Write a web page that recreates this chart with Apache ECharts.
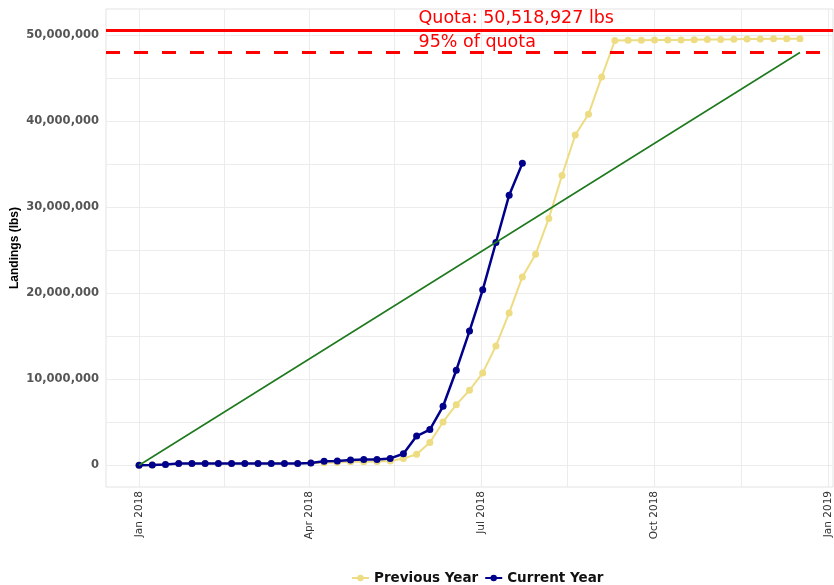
<!DOCTYPE html>
<html><head><meta charset="utf-8">
<script src="https://cdn.jsdelivr.net/npm/echarts@6/dist/echarts.min.js"></script>
<style>html,body{margin:0;padding:0;background:#fff}#c{width:834px;height:585px}</style>
</head><body><div id="c"></div>
<script>
// weekly dates
const weekDates = [
  '2018-01-01','2018-01-08','2018-01-15','2018-01-22','2018-01-29','2018-02-05','2018-02-12','2018-02-19','2018-02-26',
  '2018-03-05','2018-03-12','2018-03-19','2018-03-26','2018-04-02','2018-04-09','2018-04-16','2018-04-23','2018-04-30',
  '2018-05-07','2018-05-14','2018-05-21','2018-05-28','2018-06-04','2018-06-11','2018-06-18','2018-06-25','2018-07-02',
  '2018-07-09','2018-07-16','2018-07-23','2018-07-30','2018-08-06','2018-08-13','2018-08-20','2018-08-27','2018-09-03',
  '2018-09-10','2018-09-17','2018-09-24','2018-10-01','2018-10-08','2018-10-15','2018-10-22','2018-10-29','2018-11-05',
  '2018-11-12','2018-11-19','2018-11-26','2018-12-03','2018-12-10','2018-12-17'
];
const previousYear = [
  0, 20000, 80000, 200000, 200000, 200000, 200000, 200000, 200000, 200000, 200000, 200000, 200000,
  250000, 300000, 320000, 420000, 420000, 450000, 500000, 780000, 1280000, 2640000, 5040000, 7050000,
  8720000, 10740000, 13880000, 17710000, 21900000, 24530000, 28700000, 33700000, 38400000, 40800000,
  45150000, 49380000, 49420000, 49420000, 49430000, 49430000, 49450000, 49470000, 49500000, 49500000,
  49520000, 49550000, 49560000, 49580000, 49600000, 49600000
];
const currentYear = [
  0, 20000, 80000, 200000, 200000, 200000, 200000, 200000, 200000, 200000, 200000, 200000, 200000,
  270000, 470000, 500000, 620000, 660000, 660000, 800000, 1340000, 3400000, 4150000, 6860000, 11050000,
  15600000, 20400000, 25900000, 31400000, 35100000
];
const targetDates = ['2018-01-01', '2018-12-17'];
const quota = 50518927;
const quota95 = 47992981;
const targetValues = [0, quota95];
const seriesNames = ['Previous Year', 'Current Year'];
const yAxisTitle = 'Landings (lbs)';
const xTickLabels = ['2018-01-01', '2018-04-01', '2018-07-01', '2018-10-01', '2019-01-01'];
const xMinorGrid = ['2018-02-15', '2018-05-16', '2018-08-16', '2018-11-16'];
const yTickLabels = [0, 10000000, 20000000, 30000000, 40000000, 50000000];
const yGrid = [0, 5000000, 10000000, 15000000, 20000000, 25000000, 30000000, 35000000, 40000000, 45000000, 50000000];
const quotaText = 'Quota: 50,518,927 lbs';
const quota95Text = '95% of quota';
const labelDate = '2018-05-29';
const labelValues = [51980000, 49190000];

const ts = s => { const p = s.split('-').map(Number); return Date.UTC(p[0], p[1] - 1, p[2]); };
const firstT = ts(weekDates[0]), lastT = ts(weekDates[weekDates.length - 1]);
const padX = (lastT - firstT) * 0.05;
const padY = quota * 0.05;
const months = ['Jan','Feb','Mar','Apr','May','Jun','Jul','Aug','Sep','Oct','Nov','Dec'];

const chart = echarts.init(document.getElementById('c'));
chart.setOption({
  animation: false,
  backgroundColor: '#fff',
  grid: { left: 106, right: 1, top: 9, bottom: 98, show: true, borderColor: '#e3e3e3', borderWidth: 1,
          containLabel: false, outerBoundsMode: 'none' },
  graphic: [{
    type: 'text', x: 15, y: 248, rotation: Math.PI / 2, silent: true,
    style: { text: yAxisTitle, align: 'center', verticalAlign: 'middle',
             font: 'bold 12px "Liberation Sans", Arial, sans-serif', fill: '#000' }
  }],
  legend: {
    data: seriesNames, top: 566, left: 346, itemWidth: 17, itemHeight: 8, itemGap: 6,
    textStyle: { fontFamily: 'DejaVu Sans', fontWeight: 'bold', fontSize: 13.5, color: '#111' }
  },
  xAxis: {
    type: 'value', min: firstT - padX, max: lastT + padX,
    axisLine: { show: false },
    axisTick: { show: false, customValues: xTickLabels.concat(xMinorGrid).map(ts) },
    splitLine: { show: true, lineStyle: { color: '#ececec', width: 1 } },
    axisLabel: {
      customValues: xTickLabels.map(ts), rotate: 90, margin: 4,
      fontFamily: 'DejaVu Sans', fontSize: 10.5, color: '#333',
      formatter: v => { const d = new Date(v); return months[d.getUTCMonth()] + ' ' + d.getUTCFullYear(); }
    }
  },
  yAxis: {
    type: 'value', min: -padY, max: quota + padY,
    axisLine: { show: false },
    axisTick: { show: false, customValues: yGrid },
    splitLine: { show: true, lineStyle: { color: '#ececec', width: 1 } },
    axisLabel: {
      customValues: yTickLabels, margin: 7,
      fontFamily: 'DejaVu Sans', fontWeight: 'bold', fontSize: 11.5, color: '#555',
      formatter: v => Math.round(v).toLocaleString('en-US')
    }
  },
  series: [
    {
      name: seriesNames[0], type: 'line', data: weekDates.map((d, i) => [ts(d), previousYear[i]]),
      symbol: 'circle', symbolSize: 7, showSymbol: true,
      itemStyle: { color: '#EEDC82' }, lineStyle: { color: '#EEDC82', width: 2 }, z: 2
    },
    {
      name: seriesNames[1], type: 'line', data: currentYear.map((v, i) => [ts(weekDates[i]), v]),
      symbol: 'circle', symbolSize: 7, showSymbol: true,
      itemStyle: { color: '#00008B' }, lineStyle: { color: '#00008B', width: 2.5 }, z: 3
    },
    {
      name: 'Target', type: 'line', data: targetDates.map((d, i) => [ts(d), targetValues[i]]),
      symbol: 'none', lineStyle: { color: '#1f7a1f', width: 1.6 }, z: 4,
      markLine: {
        silent: true, symbol: 'none', animation: false, label: { show: false },
        data: [
          { yAxis: quota, lineStyle: { color: '#ff0000', width: 3, type: 'solid' } },
          { yAxis: quota95, lineStyle: { color: '#ff0000', width: 3, type: [14, 14] } }
        ]
      },
      markPoint: {
        silent: true, symbol: 'circle', symbolSize: 0, animation: false,
        itemStyle: { color: 'transparent' },
        label: { show: true, position: 'right', distance: 0, color: '#ff0000', fontFamily: 'DejaVu Sans', fontSize: 17.5 },
        data: [
          { coord: [ts(labelDate), labelValues[0]], label: { formatter: quotaText } },
          { coord: [ts(labelDate), labelValues[1]], label: { formatter: quota95Text } }
        ]
      }
    }
  ]
});
</script></body></html>
